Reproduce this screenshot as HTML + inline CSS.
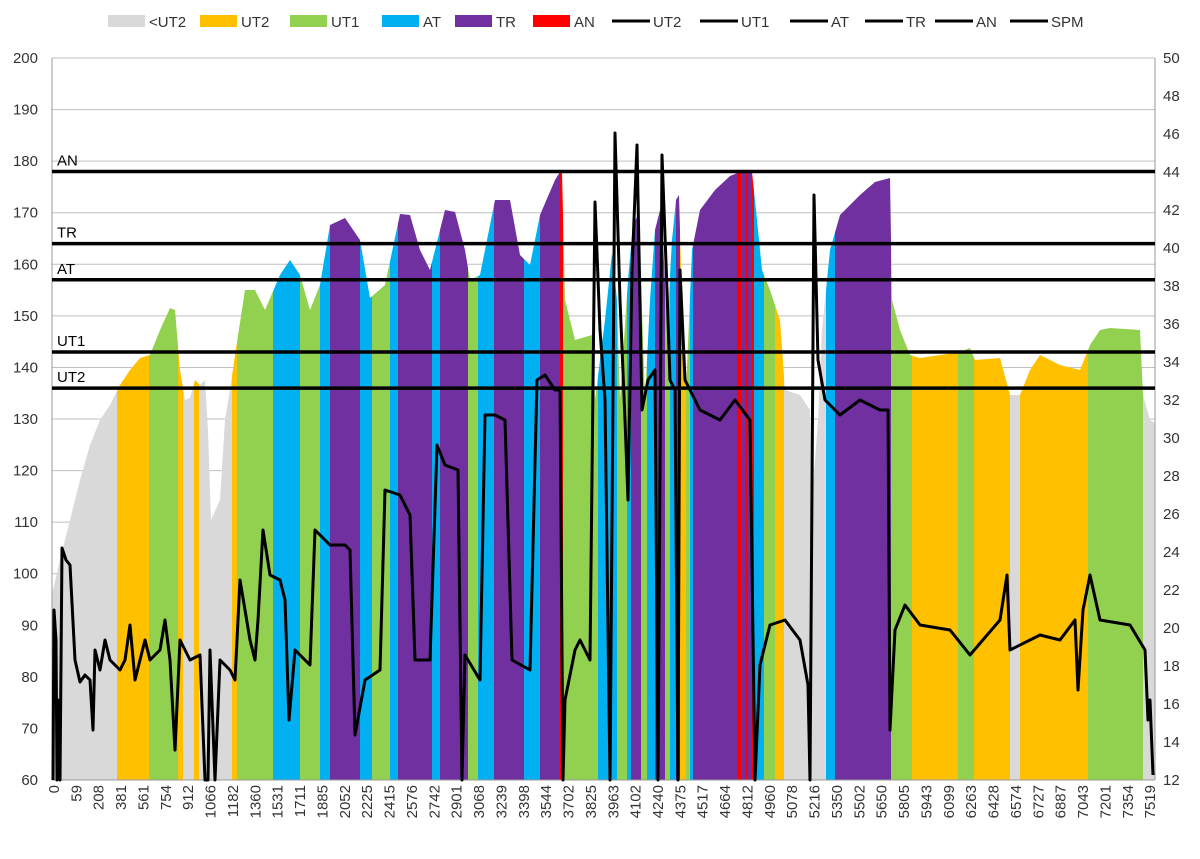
<!DOCTYPE html>
<html><head><meta charset="utf-8"><style>
body{margin:0;background:#fff;font-family:"Liberation Sans",sans-serif}
svg text{font-family:"Liberation Sans",sans-serif;font-size:15px;fill:#333}
</style></head><body>
<svg id="s" width="1200" height="854" xmlns="http://www.w3.org/2000/svg"></svg>
<script>
const s=document.getElementById('s');let h='';
const Y=v=>780-(v-60)*5.157;
for(let v=60;v<=200;v+=10){const y=Y(v);h+=`<line x1="52" x2="1155" y1="${y}" y2="${y}" stroke="#bfbfbf" stroke-width="1"/>`;h+=`<text x="38" y="${y+5}" text-anchor="end">${v}</text>`;}
for(let v=12;v<=50;v+=2){const y=780-(v-12)*19;h+=`<text x="1163" y="${y+5}">${v}</text>`;}
const prof=[[52,780],[52,594],[60,560],[70,520],[80,480],[90,445],[100,420],[110,405],[115,395],[120,385],[130,370],[140,358],[150,355],[160,330],[170,308],[175,310],[180,370],[185,400],[190,398],[195,380],[200,385],[205,380],[208,430],[211,520],[220,500],[225,420],[230,390],[235,355],[245,290],[255,290],[265,310],[280,275],[290,260],[300,275],[310,310],[320,285],[330,225],[345,218],[360,240],[370,298],[385,285],[400,214],[410,215],[420,250],[430,270],[445,210],[455,212],[465,250],[470,280],[480,275],[495,200],[510,200],[520,255],[530,265],[540,215],[555,180],[560,172],[562,172],[565,300],[575,340],[592,335],[595,400],[605,320],[612,253],[617,300],[620,400],[628,280],[633,225],[638,215],[641,280],[645,400],[650,300],[655,230],[660,210],[663,240],[667,330],[672,240],[676,200],[679,195],[682,300],[686,390],[692,250],[700,210],[715,190],[730,176],[740,172],[752,172],[756,210],[762,270],[770,290],[780,320],[785,390],[800,395],[810,410],[812,500],[818,420],[822,330],[830,250],[840,215],[860,195],[875,182],[890,178],[892,300],[900,330],[910,355],[920,358],[960,352],[970,348],[975,360],[1000,358],[1010,395],[1020,395],[1030,370],[1040,355],[1060,365],[1080,370],[1090,345],[1100,330],[1110,328],[1140,330],[1143,395],[1150,420],[1155,423],[1155,780]];
h+=`<defs><clipPath id="c"><polygon points="${prof.map(p=>p.join(',')).join(' ')}"/></clipPath></defs>`;
const G='#d9d9d9',O='#ffc000',N='#92d050',C='#00b0f0',P='#7030a0',R='#ff0000';
const seg=[[52,G],[117,O],[149,N],[178,O],[183,G],[194,O],[199,G],[232,O],[237,N],[273,C],[300,N],[320,C],[330,P],[360,C],[372,N],[390,C],[398,P],[432,C],[440,P],[468,N],[478,C],[494,P],[524,C],[540,P],[560,R],[563,N],[598,C],[617,N],[627,C],[631,P],[641,N],[647,C],[655,P],[665,N],[670,C],[676,P],[680,O],[686,N],[690,C],[693,P],[737,R],[741,P],[745,R],[748,P],[752,R],[754,C],[764,N],[775,O],[784,G],[826,C],[835,P],[891,N],[912,O],[958,N],[974,O],[1010,G],[1020,O],[1088,N],[1143,G],[1155,null]];
h+='<g clip-path="url(#c)">';
for(let i=0;i<seg.length-1;i++)h+=`<rect x="${seg[i][0]}" y="0" width="${seg[i+1][0]-seg[i][0]}" height="780" fill="${seg[i][1]}"/>`;
h+='</g>';
h+=`<line x1="52" x2="52" y1="58" y2="780" stroke="#999"/><line x1="1155" x2="1155" y1="58" y2="780" stroke="#999"/><line x1="52" x2="1155" y1="780" y2="780" stroke="#999"/>`;
const lines=[['AN',178],['TR',164],['AT',157],['UT1',143],['UT2',136]];
lines.forEach(([n,v])=>{const y=Y(v);h+=`<line x1="52" x2="1155" y1="${y}" y2="${y}" stroke="#000" stroke-width="3.5"/><text x="57" y="${y-6}" fill="#000" style="fill:#000">${n}</text>`;});
const spm=[[53,780],[54,610],[56,640],[57,780],[58,700],[60,780],[62,548],[66,560],[70,565],[75,660],[80,682],[85,675],[90,680],[93,730],[95,650],[100,670],[105,640],[110,660],[115,665],[120,670],[125,660],[130,625],[135,680],[140,660],[145,640],[150,660],[160,650],[165,620],[170,660],[175,750],[180,640],[190,660],[200,655],[205,780],[208,780],[210,650],[215,780],[220,660],[230,670],[235,680],[240,580],[245,610],[250,640],[255,660],[258,620],[263,530],[270,575],[280,580],[285,600],[289,720],[295,650],[310,665],[315,530],[330,545],[345,545],[350,550],[355,735],[365,680],[380,670],[385,490],[400,495],[410,515],[415,660],[430,660],[437,445],[445,465],[458,470],[462,780],[465,655],[480,680],[485,415],[495,415],[505,420],[512,660],[530,670],[537,380],[545,375],[555,390],[560,390],[563,780],[565,700],[575,650],[580,640],[590,660],[595,202],[600,330],[605,400],[610,780],[615,133],[620,300],[625,420],[628,500],[632,270],[637,145],[642,410],[648,380],[655,370],[658,780],[662,155],[667,290],[670,380],[675,390],[678,780],[680,270],[685,380],[700,410],[720,420],[735,400],[750,420],[755,780],[760,665],[770,625],[785,620],[800,640],[808,685],[810,780],[814,195],[818,360],[825,400],[840,415],[860,400],[880,410],[888,410],[890,730],[895,630],[905,605],[920,625],[950,630],[970,655],[1000,620],[1007,575],[1010,650],[1040,635],[1060,640],[1075,620],[1078,690],[1083,610],[1090,575],[1100,620],[1130,625],[1145,650],[1148,720],[1150,700],[1153,775]];
h+=`<polyline points="${spm.map(p=>p.join(',')).join(' ')}" fill="none" stroke="#000" stroke-width="3" stroke-linejoin="round"/>`;
const xl=[0,59,208,381,561,754,912,1066,1182,1360,1531,1711,1885,2052,2225,2415,2576,2742,2901,3068,3239,3398,3544,3702,3825,3963,4102,4240,4375,4517,4664,4812,4960,5078,5216,5350,5502,5650,5805,5943,6099,6263,6428,6574,6727,6887,7043,7201,7354,7519];
xl.forEach((t,i)=>{const x=54+i*22.37;h+=`<text transform="translate(${x+5},785) rotate(-90)" text-anchor="end">${t}</text>`;});
const leg=[[108,G,'<UT2',1],[200,O,'UT2',1],[290,N,'UT1',1],[382,C,'AT',1],[455,P,'TR',1],[533,R,'AN',1],[612,'#000','UT2',0],[700,'#000','UT1',0],[790,'#000','AT',0],[865,'#000','TR',0],[935,'#000','AN',0],[1010,'#000','SPM',0]];
leg.forEach(([x,c,t,b])=>{if(b)h+=`<rect x="${x}" y="15" width="37" height="12" fill="${c}"/>`;else h+=`<line x1="${x}" x2="${x+38}" y1="21" y2="21" stroke="#000" stroke-width="3"/>`;h+=`<text x="${x+41}" y="27">${t.replace('<','&lt;')}</text>`;});
s.innerHTML=h;
</script>
</body></html>
